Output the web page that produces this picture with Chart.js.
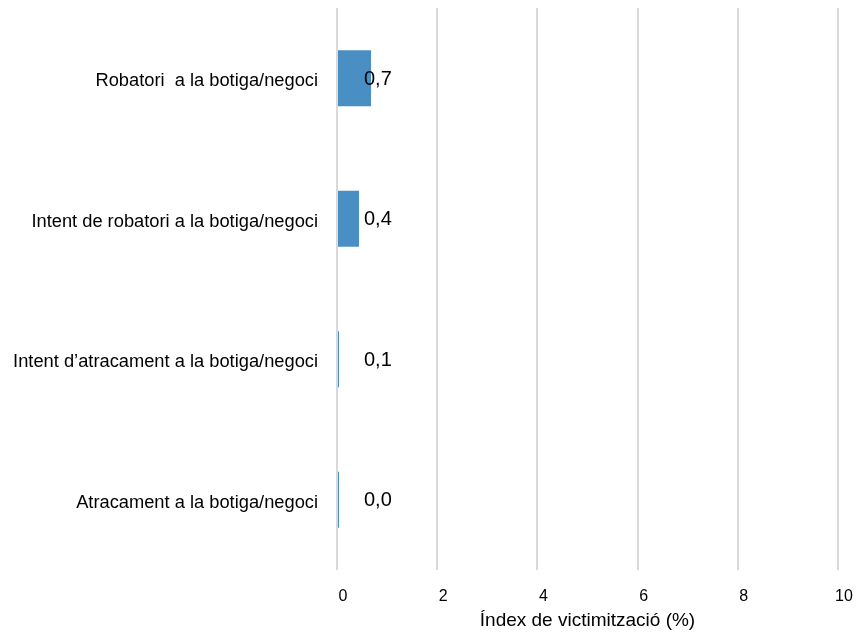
<!DOCTYPE html>
<html>
<head>
<meta charset="utf-8">
<script src="https://cdn.jsdelivr.net/npm/chart.js@4"></script>
<style>
	html, body { margin: 0; padding: 0; background: #fff; }
	#grafico { width: 857px; height: 635px; position: relative; }
</style>
</head>
<body>
<div id="grafico"><canvas id="graficoVictim"></canvas></div>
<script>
const categorias = [
	"Robatori  a la botiga/negoci",
	"Intent de robatori a la botiga/negoci",
	"Intent d\u2019atracament a la botiga/negoci",
	"Atracament a la botiga/negoci"
];
const valores = [0.68, 0.44, 0.04, 0.04];
const etiquetas = ["0,7", "0,4", "0,1", "0,0"];
const ticksX = [0, 2, 4, 6, 8, 10];
const tituloX = "\u00cdndex de victimitzaci\u00f3 (%)";

const fonte = "'Liberation Sans', Arial, sans-serif";

// etiquetas de valor ao lado das barras
const pluginEtiquetas = {
	id: "etiquetas",
	afterDatasetsDraw(chart) {
		const ctx = chart.ctx;
		const meta = chart.getDatasetMeta(0);
		const x0 = chart.scales.x.getPixelForValue(0);
		ctx.save();
		ctx.font = "20px " + fonte;
		ctx.fillStyle = "#000";
		ctx.textAlign = "left";
		ctx.textBaseline = "middle";
		meta.data.forEach((bar, i) => {
			ctx.fillText(etiquetas[i], x0 + 27, bar.y + 1);
		});
		ctx.restore();
	}
};

function Init()
{
	new Chart(document.getElementById("graficoVictim").getContext("2d"), {
		type: "bar",
		data: {
			labels: categorias,
			datasets: [{
				data: valores,
				backgroundColor: "#4a8fc3",
				borderWidth: 0,
				barPercentage: 0.8,
				categoryPercentage: 0.5
			}]
		},
		options: {
			indexAxis: "y",
			responsive: true,
			maintainAspectRatio: false,
			animation: false,
			layout: { padding: { top: 8, right: 19, left: 0, bottom: 0 } },
			plugins: {
				legend: { display: false },
				tooltip: { enabled: false }
			},
			scales: {
				x: {
					min: 0,
					max: 10,
					afterBuildTicks: axis => { axis.ticks = ticksX.map(v => ({ value: v })); },
					grid: { color: "#d9d9d9", lineWidth: 2, drawTicks: false },
					border: { display: false },
					ticks: { color: "#000", padding: 17, labelOffset: 6, font: { family: fonte, size: 16 } },
					title: { display: true, text: tituloX, color: "#000", padding: { top: 9, bottom: 3 }, font: { family: fonte, size: 19 } },
					afterFit: axis => {
						axis.height = 65;
						axis.paddingLeft = 0;
						axis.paddingRight = 0;
					}
				},
				y: {
					grid: { display: false, drawTicks: false },
					border: { display: false },
					ticks: { color: "#000", padding: 19, labelOffset: 3, font: { family: fonte, size: 18.3 } },
					afterFit: axis => {
						axis.width = 337;
						axis.paddingTop = 0;
						axis.paddingBottom = 0;
					}
				}
			}
		},
		plugins: [pluginEtiquetas]
	});
}

Init();
</script>
</body>
</html>
